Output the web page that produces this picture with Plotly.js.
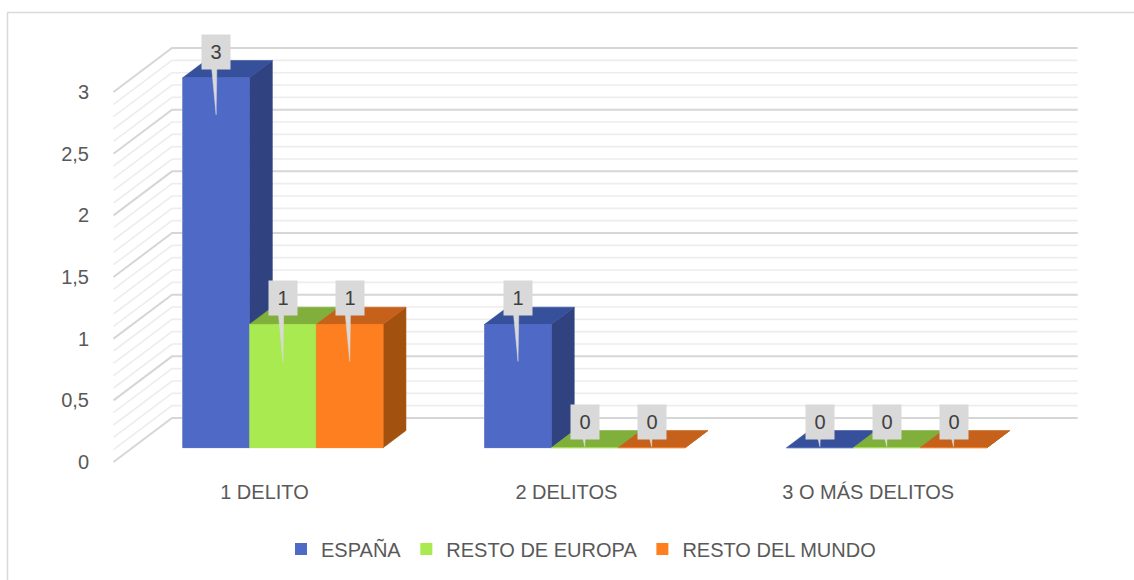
<!DOCTYPE html>
<html>
<head>
<meta charset="utf-8">
<script src="https://cdn.plot.ly/plotly-3.0.1.min.js"></script>
<style>
html,body{margin:0;padding:0;background:#fff;}
#chart{width:1134px;height:580px;}
</style>
</head>
<body>
<div id="chart"></div>
<script>
// ---- data ----
const categories = ['1 DELITO', '2 DELITOS', '3 O MÁS DELITOS'];
const seriesNames = ['ESPAÑA', 'RESTO DE EUROPA', 'RESTO DEL MUNDO'];
const espana = [3, 1, 0];
const restoEuropa = [1, 0, 0];
const restoMundo = [1, 0, 0];
const gridMajorStep = 0.5;
const gridMinorStep = 0.1;
const yMax = 3;

// ---- styling / layout constants ----
const W = 1134, H = 580;
const L = 98, R = 41, T = 40, B = 110;
const FL = 113.5;            // pixel of front-left wall edge
const CW = 301.9;            // pixels per category
const Y0 = 462;              // pixel of front-plane zero
const UY = 123.33;           // pixels per value unit
const DX = 58.5 / CW;        // full depth offset, x data units
const DY = 44 / UY;          // full depth offset, y data units
const FRONT_D = 0.325, BAR_D = 0.39;
const BW = 0.2213, GROUP_OFF = -0.3337;
const PW = W - L - R, PH = H - T - B;
const xr0 = -0.5 - (FL - L) / CW, xr1 = xr0 + PW / CW;
const yr0 = -((H - B) - Y0) / UY, yr1 = yr0 + PH / UY;

const series = [espana, restoEuropa, restoMundo];
const frontC = ['#4F69C6', '#A8EA50', '#FE7F20'];
const topC = ['#36509C', '#80AF3C', '#C5611A'];
const sideC = ['#30427F', '#6E9A30', '#A3510F'];
const font = '"Liberation Sans", Arial, sans-serif';
const FS = 20;

const traces = [];

// back wall + left wall gridlines
function gridTrace(step, color, width, skipMajor) {
  const xs = [], ys = [];
  const n = Math.round(yMax / step);
  for (let k = 0; k <= n; k++) {
    const v = +(k * step).toFixed(6);
    if (skipMajor && Math.abs(v / gridMajorStep - Math.round(v / gridMajorStep)) < 1e-6) continue;
    xs.push(-0.5, -0.5 + DX, categories.length - 0.5 + DX, null);
    ys.push(v, v + DY, v + DY, null);
  }
  return {type: 'scatter', mode: 'lines', x: xs, y: ys, line: {color: color, width: width},
          hoverinfo: 'skip', showlegend: false};
}
traces.push(gridTrace(gridMinorStep, '#ededed', 1.6, true));
traces.push(gridTrace(gridMajorStep, '#d6d6d6', 2, false));

// legend carriers (real bars, covered by the 3D faces)
series.forEach((vals, s) => {
  traces.push({
    type: 'bar', name: seriesNames[s],
    x: categories.map((c, i) => i + FRONT_D * DX),
    y: vals, base: FRONT_D * DY, width: BW,
    offset: GROUP_OFF + s * BW,
    marker: {color: frontC[s]}, hoverinfo: 'skip'
  });
});

// 3D faces
const bx = BAR_D * DX, by = BAR_D * DY;
series.forEach((vals, s) => {
  const side = {x: [], y: []}, top = {x: [], y: []}, front = {x: [], y: []};
  vals.forEach((v, i) => {
    const x0 = i + FRONT_D * DX + GROUP_OFF + s * BW, x1 = x0 + BW;
    const y0 = FRONT_D * DY, y1 = y0 + v;
    side.x.push(x1, x1 + bx, x1 + bx, x1, x1, null);
    side.y.push(y0, y0 + by, y1 + by, y1, y0, null);
    top.x.push(x0, x1, x1 + bx, x0 + bx, x0, null);
    top.y.push(y1, y1, y1 + by, y1 + by, y1, null);
    front.x.push(x0, x1, x1, x0, x0, null);
    front.y.push(y0, y0, y1, y1, y0, null);
  });
  [[side, sideC[s]], [top, topC[s]], [front, frontC[s]]].forEach(([f, c]) => {
    traces.push({type: 'scatter', mode: 'lines', x: f.x, y: f.y, fill: 'toself',
      fillcolor: c, line: {color: c, width: 0.6}, hoverinfo: 'skip', showlegend: false});
  });
});

// data label callouts
const annotations = [];
const tail = {x: [], y: []};
series.forEach((vals, s) => {
  vals.forEach((v, i) => {
    const cx = i + FRONT_D * DX + GROUP_OFF + (s + 0.5) * BW;
    const frontTop = FRONT_D * DY + v;
    const cy = frontTop + 26 / UY;
    const tipY = frontTop - (v > 0 ? 37 : -1) / UY;
    tail.x.push(cx - 6 / CW, cx + 1 / CW, cx, cx - 6 / CW, null);
    tail.y.push(cy, cy, tipY, cy, null);
    annotations.push({x: cx, y: cy, xref: 'x', yref: 'y', text: String(v), showarrow: false,
      bgcolor: '#d9d9d9', width: 28, height: 34, borderpad: 0,
      font: {family: font, size: FS, color: '#404040'}, xanchor: 'center', yanchor: 'middle'});
  });
});
traces.push({type: 'scatter', mode: 'lines', x: tail.x, y: tail.y, fill: 'toself',
  fillcolor: '#d9d9d9', line: {color: '#d9d9d9', width: 0.5}, hoverinfo: 'skip', showlegend: false});

const layout = {
  width: W, height: H,
  margin: {l: L, r: R, t: T, b: B},
  paper_bgcolor: '#ffffff', plot_bgcolor: 'rgba(0,0,0,0)',
  separators: ', ',
  barmode: 'overlay',
  showlegend: true,
  font: {family: font, size: FS, color: '#595959'},
  xaxis: {type: 'linear', range: [xr0, xr1], tickvals: categories.map((c, i) => i),
    ticktext: categories, showgrid: false, zeroline: false, showline: false,
    ticks: 'outside', ticklen: 4, tickcolor: 'rgba(0,0,0,0)', fixedrange: true,
    tickfont: {family: font, size: FS, color: '#595959'}},
  yaxis: {range: [yr0, yr1], tick0: 0, dtick: gridMajorStep, showgrid: false, zeroline: false,
    showline: false, ticks: 'outside', ticklen: 4, tickcolor: 'rgba(0,0,0,0)', fixedrange: true,
    tickfont: {family: font, size: FS, color: '#595959'}},
  legend: {orientation: 'h', xref: 'container', yref: 'container', x: 581 / W, y: 1 - 549 / H,
    xanchor: 'center', yanchor: 'middle', font: {family: font, size: FS, color: '#595959'},
    traceorder: 'normal'},
  annotations: annotations,
  shapes: [{type: 'path', xref: 'paper', yref: 'paper',
    path: 'M' + ((7.5 - L) / PW) + ',' + (((H - B) - 590) / PH) + ' L' + ((7.5 - L) / PW) + ',' +
      (((H - B) - 12.5) / PH) + ' L' + ((1140 - L) / PW) + ',' + (((H - B) - 12.5) / PH),
    line: {color: '#d9d9d9', width: 1.5}}]
};

Plotly.newPlot('chart', traces, layout, {displayModeBar: false, staticPlot: true});
</script>
</body>
</html>
